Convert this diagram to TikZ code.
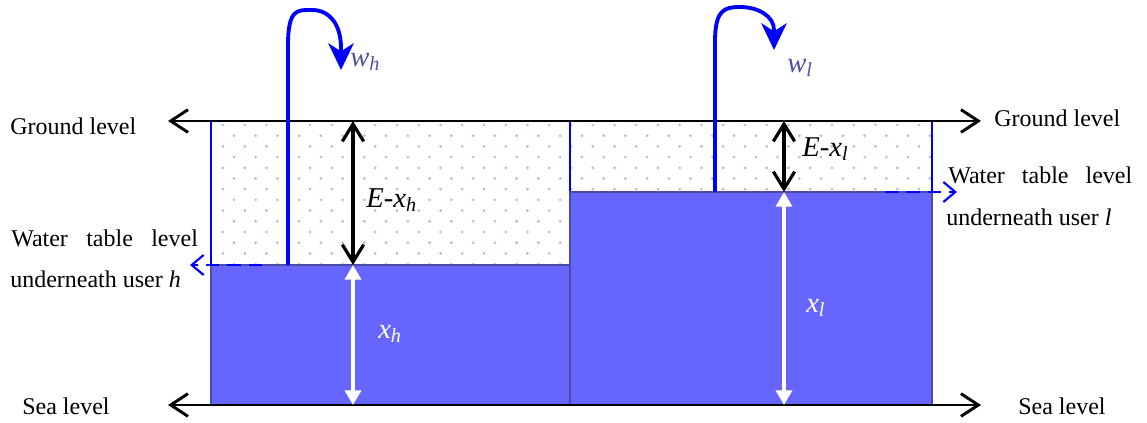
\documentclass[tikz,border=0pt]{standalone}
\usepackage{fontspec}
\setmainfont{Liberation Serif}
\usetikzlibrary{arrows.meta}
\definecolor{water}{RGB}{102,102,255}
\definecolor{waterline}{RGB}{75,75,165}
\definecolor{dotcol}{RGB}{180,180,240}
\definecolor{wcol}{RGB}{80,80,160}
\definecolor{pipeblue}{RGB}{0,0,255}
\begin{document}
\begin{tikzpicture}[x=0.75pt,y=-0.75pt,
  txt/.style={inner sep=0pt,anchor=base west,font=\fontsize{18}{22}\selectfont},
  lbl/.style={inner sep=0pt,anchor=base west,font=\fontsize{21.5}{25}\selectfont},
  level/.style={line width=2.2pt,{Straight Barb[length=13pt,width=17pt]}-{Straight Barb[length=13pt,width=17pt]}},
  depth/.style={line width=2.4pt,{Straight Barb[length=13pt,width=16pt]}-{Straight Barb[length=13pt,width=16pt]}},
  height/.style={white,line width=3.2pt,{Triangle[length=11pt,width=12pt]}-{Triangle[length=11pt,width=12pt]}},
  pipe/.style={pipeblue,line width=2.9pt,-{Stealth[length=20pt,width=19pt,inset=6pt]}},
  wtable/.style={pipeblue,line width=1.6pt,dash pattern=on 10pt off 6pt,-{Straight Barb[length=9pt,width=15pt]}},
  soil/.style={draw=pipeblue,line width=1.2pt},
  aquifer/.style={fill=water,draw=waterline,line width=1.4pt}]
\useasboundingbox (0,0) rectangle (1147,422);
% soil dots
\begin{scope}
\clip (211,121) rectangle (570,265) (570,121) rectangle (932,192);
\foreach \j in {0,...,13}{
  \foreach \k in {0,...,34}{
    \pgfmathsetmacro\xx{223+21.75*\k+10.87*mod(\j,2)}
    \pgfmathsetmacro\yy{125+10.7*\j}
    \fill[dotcol] (\xx,\yy) circle[radius=1.1pt];
  }
}
\end{scope}
% soil outlines
\draw[soil] (211,265) -- (211,121) -- (570,121) -- (570,192);
\draw[soil] (570,121) -- (932,121) -- (932,192);
% aquifers
\draw[aquifer] (211,265) rectangle (570,405);
\draw[aquifer] (570,192) rectangle (932,405);
% coordinates
\coordinate (gl) at (168,121); \coordinate (gr) at (981,121);
\coordinate (sl) at (168,405); \coordinate (sr) at (981,405);
\coordinate (hTop) at (353,121); \coordinate (hWT) at (353,265); \coordinate (hSea) at (353,405);
\coordinate (lTop) at (784,121); \coordinate (lWT) at (784,192); \coordinate (lSea) at (784,405);
\coordinate (hDashS) at (262,265); \coordinate (hDashE) at (190,265);
\coordinate (lDashS) at (885,192); \coordinate (lDashE) at (957,192);
\coordinate (hWell) at (288,265); \coordinate (hOut) at (341,70);
\coordinate (lWell) at (715,192); \coordinate (lOut) at (774,50);
% level lines
\draw[level] (gl) -- (gr);
\draw[level] (sl) -- (sr);
% depth arrows
\draw[depth] (hTop) -- (hWT);
\draw[depth] (lTop) -- (lWT);
\draw[height] (hWT) -- (hSea);
\draw[height] (lWT) -- (lSea);
% water table markers
\draw[wtable] (hDashS) -- (hDashE);
\draw[wtable] (lDashS) -- (lDashE);
% wells
\draw[pipe] (hWell) -- (288,45) .. controls (288,8) and (298,10) .. (312,10)
  .. controls (330,10) and (341,25) .. (341,48) -- (hOut);
\draw[pipe] (lWell) -- (715,42) .. controls (715,10) and (724,7) .. (740,7)
  .. controls (758,7) and (774,16) .. (774,30) -- (lOut);
% labels
\node[txt] (tGL) at (10,134) {Ground level};
\node[txt] (tGR) at (994,126) {Ground level};
\node[txt] (tSL) at (22,414) {Sea level};
\node[txt] (tSR) at (1018,414) {Sea level};
\node[txt] (tWL1) at (11,246) {\makebox[140pt][s]{Water table level}};
\node[txt] (tWL2) at (10,287) {underneath user \textit{h}};
\node[txt] (tWR1) at (948,183) {\makebox[138pt][s]{Water table level}};
\node[txt] (tWR2) at (946,225) {underneath user \textit{l}};
\node[lbl] (eh) at (366,207) {\textit{E}-\textit{x}\textsubscript{\textit{h}}};
\node[lbl] (el) at (802,156) {\textit{E}-\textit{x}\textsubscript{\textit{l}}};
\node[lbl,white] (xh) at (378,338) {\textit{x}\textsubscript{\textit{h}}};
\node[lbl,white] (xl) at (806,312) {\textit{x}\textsubscript{\textit{l}}};
\node[lbl,wcol] (wh) at (350,66) {\textit{w}\textsubscript{\textit{h}}};
\node[lbl,wcol] (wl) at (787,72) {\textit{w}\textsubscript{\textit{l}}};
\end{tikzpicture}
\end{document}
